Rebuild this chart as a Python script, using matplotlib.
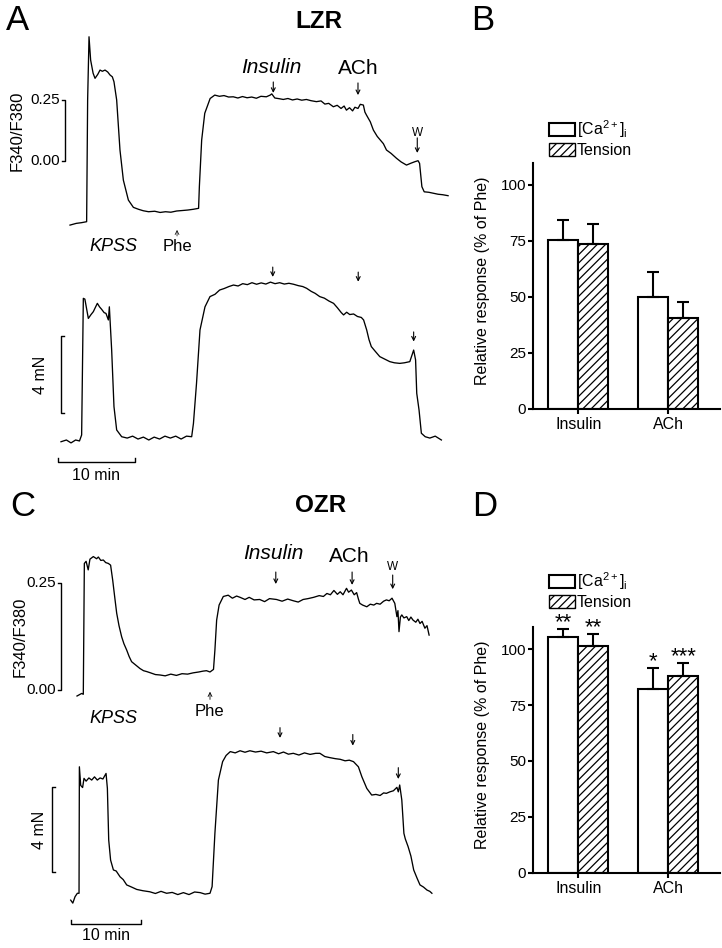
import numpy as np
import matplotlib.pyplot as plt
from matplotlib.patches import Patch

plt.rcParams['font.family'] = ['Liberation Sans', 'DejaVu Sans']
plt.rcParams['mathtext.fontset'] = 'custom'
plt.rcParams['mathtext.rm'] = 'Liberation Sans'
plt.rcParams['mathtext.it'] = 'Liberation Sans:italic'
plt.rcParams['hatch.linewidth'] = 0.9

W, H = 722, 948

lzr_ratio = [
    (0.0, -0.265), (0.8, -0.258), (1.5, -0.255), (2.16, -0.251), (2.29, 0.25), (2.47, 0.51),
    (2.68, 0.414), (3.0, 0.36), (3.25, 0.339), (3.6, 0.355), (3.9, 0.373), (4.2, 0.368),
    (4.55, 0.373), (4.9, 0.365), (5.19, 0.353), (5.5, 0.345), (5.71, 0.325), (6.06, 0.25),
    (6.49, 0.044), (6.93, -0.08), (7.58, -0.162), (8.23, -0.192), (8.9, -0.2), (9.52, -0.206),
    (10.2, -0.21), (11.0, -0.208), (11.7, -0.213), (12.4, -0.21), (13.1, -0.212), (13.85, -0.207),
    (14.6, -0.205), (15.3, -0.203), (16.0, -0.2), (16.7, -0.196), (16.8, -0.107), (17.1, 0.085),
    (17.5, 0.195), (18.2, 0.256), (18.8, 0.27), (19.4, 0.265), (20.0, 0.268), (20.6, 0.262),
    (21.2, 0.263), (21.8, 0.258), (22.4, 0.264), (23.0, 0.259), (23.6, 0.262), (24.2, 0.257),
    (24.8, 0.265), (25.5, 0.263), (26.0, 0.27), (26.2, 0.275), (26.6, 0.258), (27.2, 0.255),
    (27.7, 0.252), (28.3, 0.256), (28.9, 0.25), (29.5, 0.254), (30.1, 0.249), (30.7, 0.252),
    (31.3, 0.247), (32.0, 0.243), (32.6, 0.246), (33.1, 0.233), (33.6, 0.236), (34.2, 0.222),
    (34.7, 0.228), (35.2, 0.215), (35.6, 0.225), (35.9, 0.208), (36.3, 0.218), (36.7, 0.205),
    (37.0, 0.22), (37.4, 0.215), (37.7, 0.232), (38.1, 0.229), (38.3, 0.2), (38.5, 0.188),
    (39.0, 0.16), (39.4, 0.126), (39.9, 0.1), (40.3, 0.085), (40.7, 0.07), (41.1, 0.044),
    (41.7, 0.03), (42.4, 0.01), (43.0, -0.005), (43.7, -0.018), (44.3, -0.01), (44.8, -0.004),
    (45.2, 0.0), (45.4, -0.011), (45.7, -0.107), (46.0, -0.128), (46.6, -0.13), (47.2, -0.134),
    (47.8, -0.138), (48.4, -0.14), (49.1, -0.144),
]
lzr_tension = [
    (0.0, -0.09), (0.7, 0.0), (1.3, -0.15), (1.9, 0.0), (2.4, -0.05), (2.68, 0.26), (2.9, 7.34),
    (3.1, 7.3), (3.55, 6.3), (3.9, 6.5), (4.2, 6.65), (4.5, 6.9), (4.72, 7.08), (5.0, 6.9),
    (5.28, 6.77), (5.6, 6.6), (5.84, 6.56), (6.15, 6.22), (6.28, 6.9), (6.58, 4.66), (6.88, 1.73),
    (7.23, 0.52), (7.88, 0.17), (8.6, 0.1), (9.3, 0.2), (10.0, 0.05), (10.7, 0.15), (11.4, 0.0),
    (12.1, 0.15), (12.8, 0.05), (13.5, 0.2), (14.2, 0.1), (14.9, 0.2), (15.6, 0.05), (16.3, 0.2),
    (16.97, 0.17), (17.2, 0.86), (17.6, 2.94), (18.05, 5.7), (18.7, 6.9), (19.35, 7.43),
    (20.0, 7.55), (20.6, 7.77), (21.2, 7.85), (21.8, 7.95), (22.4, 8.03), (23.0, 7.98),
    (23.6, 8.1), (24.2, 8.05), (24.8, 8.15), (25.4, 8.07), (26.0, 8.14), (26.6, 8.08),
    (27.2, 8.18), (27.8, 8.1), (28.4, 8.15), (29.0, 8.08), (29.6, 8.12), (30.2, 8.07),
    (30.8, 8.0), (31.4, 7.95), (31.9, 7.86), (32.5, 7.7), (33.0, 7.6), (33.6, 7.43),
    (34.2, 7.35), (34.8, 7.2), (35.4, 7.08), (35.9, 6.85), (36.4, 6.6), (36.7, 6.48),
    (37.1, 6.62), (37.5, 6.5), (38.0, 6.53), (38.5, 6.4), (39.0, 6.35), (39.3, 6.22),
    (39.7, 5.7), (40.0, 5.2), (40.3, 4.84), (40.8, 4.6), (41.4, 4.32), (42.0, 4.2),
    (42.7, 4.06), (43.3, 4.0), (44.0, 3.97), (44.6, 4.0), (45.3, 4.06), (45.8, 4.66),
    (46.05, 4.15), (46.2, 2.42), (46.5, 1.55), (46.8, 0.35), (47.3, 0.17), (47.9, 0.1),
    (48.6, 0.2), (49.4, 0.0),
]
ozr_ratio = [
    (0.0, -0.014), (0.67, -0.008), (0.9, -0.01), (1.05, 0.295), (1.3, 0.3), (1.6, 0.28),
    (1.85, 0.305), (2.33, 0.311), (2.8, 0.306), (3.05, 0.31), (3.4, 0.302), (3.76, 0.303),
    (4.1, 0.297), (4.48, 0.295), (4.8, 0.291), (5.1, 0.256), (5.4, 0.215), (5.67, 0.179),
    (6.0, 0.15), (6.38, 0.124), (6.7, 0.108), (7.1, 0.093), (7.45, 0.078), (7.8, 0.066),
    (8.4, 0.058), (9.0, 0.05), (9.5, 0.045), (9.95, 0.043), (10.5, 0.04), (11.2, 0.036),
    (11.86, 0.035), (12.6, 0.033), (13.4, 0.037), (14.2, 0.034), (15.0, 0.038), (15.8, 0.037),
    (16.6, 0.04), (17.4, 0.042), (18.0, 0.044), (18.5, 0.045), (19.0, 0.042), (19.5, 0.048),
    (19.7, 0.093), (19.95, 0.163), (20.3, 0.198), (20.9, 0.218), (21.6, 0.221), (22.2, 0.214),
    (22.8, 0.219), (23.3, 0.216), (24.0, 0.211), (24.6, 0.216), (25.3, 0.21), (26.1, 0.211),
    (26.8, 0.206), (27.5, 0.213), (28.5, 0.211), (29.3, 0.207), (30.1, 0.212), (30.9, 0.208),
    (31.6, 0.205), (32.3, 0.211), (33.0, 0.213), (33.8, 0.216), (34.6, 0.22), (35.2, 0.218),
    (35.7, 0.225), (36.2, 0.222), (36.7, 0.232), (37.2, 0.223), (37.6, 0.229), (38.0, 0.222),
    (38.5, 0.237), (38.8, 0.228), (39.2, 0.233), (39.6, 0.222), (39.95, 0.227), (40.2, 0.212),
    (40.4, 0.202), (40.8, 0.198), (41.4, 0.194), (41.9, 0.2), (42.4, 0.198), (42.8, 0.202),
    (43.3, 0.2), (43.8, 0.207), (44.2, 0.21), (44.6, 0.208), (45.0, 0.214), (45.4, 0.202),
    (45.7, 0.171), (45.85, 0.185), (46.0, 0.136), (46.2, 0.17), (46.4, 0.175), (46.7, 0.168),
    (47.1, 0.171), (47.4, 0.162), (47.7, 0.17), (48.0, 0.163), (48.4, 0.158), (48.7, 0.165),
    (49.0, 0.155), (49.3, 0.16), (49.7, 0.144), (50.0, 0.15), (50.3, 0.128),
]
ozr_tension = [
    (0.0, -0.16), (0.3, -0.3), (0.62, 0.0), (0.95, 0.16), (1.19, 0.16), (1.24, 6.07),
    (1.43, 5.2), (1.7, 5.1), (1.9, 5.53), (2.2, 5.4), (2.6, 5.55), (3.0, 5.45), (3.4, 5.6),
    (3.8, 5.45), (4.2, 5.55), (4.6, 5.5), (5.05, 5.76), (5.24, 5.06), (5.43, 2.65), (5.7, 1.71),
    (6.1, 1.25), (6.5, 1.2), (7.05, 0.93), (7.5, 0.8), (8.0, 0.55), (8.7, 0.45), (9.43, 0.34),
    (10.3, 0.28), (11.3, 0.23), (12.1, 0.15), (12.9, 0.25), (13.7, 0.16), (14.5, 0.2),
    (15.3, 0.1), (16.1, 0.19), (16.9, 0.1), (17.7, 0.22), (18.5, 0.19), (19.2, 0.12),
    (19.9, 0.16), (20.2, 0.47), (20.6, 2.96), (21.1, 5.45), (21.7, 6.31), (22.2, 6.6),
    (22.8, 6.78), (23.5, 6.72), (24.2, 6.82), (24.9, 6.75), (25.6, 6.82), (26.4, 6.76),
    (27.2, 6.8), (28.0, 6.72), (28.95, 6.78), (29.7, 6.68), (30.4, 6.76), (31.1, 6.66),
    (31.8, 6.7), (32.6, 6.62), (33.4, 6.72), (34.2, 6.65), (35.0, 6.7), (35.6, 6.7),
    (36.3, 6.55), (37.0, 6.5), (37.8, 6.45), (38.5, 6.42), (39.2, 6.35), (39.8, 6.38),
    (40.4, 6.31), (41.1, 6.07), (41.6, 5.6), (42.3, 5.06), (43.0, 4.75), (43.6, 4.78),
    (44.2, 4.73), (44.7, 4.85), (45.1, 4.83), (45.6, 4.9), (46.1, 4.95), (46.6, 5.11),
    (46.8, 4.9), (47.0, 5.22), (47.3, 4.52), (47.6, 2.96), (47.8, 2.7), (48.2, 2.34),
    (48.6, 1.9), (49.0, 1.25), (49.5, 0.85), (49.9, 0.55), (50.4, 0.45), (50.9, 0.31),
    (51.3, 0.25), (51.6, 0.16),
]

# summary bars (% of Phe)
groups = ['Insulin', 'ACh']
lzr_ca_mean = [75.5, 49.9]
lzr_ca_sem = [8.9, 11.2]
lzr_ten_mean = [73.7, 40.7]
lzr_ten_sem = [8.8, 7.0]
ozr_ca_mean = [105.4, 82.1]
ozr_ca_sem = [3.6, 9.4]
ozr_ten_mean = [101.6, 88.1]
ozr_ten_sem = [5.3, 5.6]
ozr_ca_stars = ['**', '*']
ozr_ten_stars = ['**', '***']

fig = plt.figure(figsize=(W / 100, H / 100), dpi=100)


def trace_axes(left, top, right, bottom, x0, px_min, y0, px_unit):
    ax = fig.add_axes([left / W, 1 - bottom / H, (right - left) / W, (bottom - top) / H])
    ax.set_xlim((left - x0) / px_min, (right - x0) / px_min)
    ax.set_ylim((y0 - bottom) / px_unit, (y0 - top) / px_unit)
    ax.axis('off')
    return ax


def plot_trace(ax, pts):
    arr = np.array(pts)
    ax.plot(arr[:, 0], arr[:, 1], color='black', lw=0.95)


def arrow(ax, t, v1, v2, lw=0.8):
    ax.annotate('', xy=(t, v2), xytext=(t, v1),
                arrowprops=dict(arrowstyle='->', lw=lw, color='black',
                                shrinkA=0, shrinkB=0, mutation_scale=7))


def ratio_bar(ax, t, dt, ylab_t):
    ax.plot([t - dt, t, t, t - dt], [0.25, 0.25, 0.0, 0.0], color='black', lw=1.0)
    ax.text(t - dt * 1.6, 0.25, '0.25', ha='right', va='center', fontsize=11)
    ax.text(t - dt * 1.6, 0.0, '0.00', ha='right', va='center', fontsize=11)
    ax.text(ylab_t, 0.125, 'F340/F380', rotation=90, ha='center', va='center', fontsize=12)


def tension_bar(ax, t, dt, v0, lab_t):
    ax.plot([t + dt, t, t, t + dt], [v0 + 4, v0 + 4, v0, v0], color='black', lw=1.0)
    ax.text(lab_t, v0 + 2, '4 mN', rotation=90, ha='center', va='center', fontsize=11.5)


def time_bar(ax, t0, v, dv, lab_v):
    ax.plot([t0, t0, t0 + 10, t0 + 10], [v + dv, v, v, v + dv], color='black', lw=1.0)
    ax.text(t0 + 5, lab_v, '10 min', ha='center', va='center', fontsize=11.5)


# ---- A : LZR traces
ax = trace_axes(0, 0, 470, 250, 70, 7.7, 160.7, 243)
plot_trace(ax, lzr_ratio)
ratio_bar(ax, -0.65, 0.4, -6.9)
ax.text(26.2, 0.385, 'Insulin', style='italic', ha='center', va='center', fontsize=15)
arrow(ax, 26.4, 0.324, 0.279)
ax.text(37.4, 0.381, 'ACh', ha='center', va='center', fontsize=15)
arrow(ax, 37.4, 0.32, 0.27)
ax.text(45.1, 0.114, 'W', ha='center', va='center', fontsize=8.5)
arrow(ax, 45.1, 0.094, 0.032)
ax.text(5.6, -0.352, 'KPSS', style='italic', ha='center', va='center', fontsize=13)
ax.text(13.9, -0.352, 'Phe', ha='center', va='center', fontsize=12)
arrow(ax, 13.9, -0.31, -0.285, lw=0.5)

ax = trace_axes(0, 250, 470, 490, 61, 7.7, 440, 19.3)
plot_trace(ax, lzr_tension)
tension_bar(ax, 0.0, 0.4, 1.38, -2.7)
time_bar(ax, -0.39, -1.14, 0.2, -1.85)
arrow(ax, 27.5, 8.96, 8.45)
arrow(ax, 38.6, 8.7, 8.2)
arrow(ax, 45.8, 5.6, 5.1)

# ---- C : OZR traces
ax = trace_axes(0, 480, 470, 720, 77, 7.0, 690, 429)
plot_trace(ax, ozr_ratio)
ratio_bar(ax, -2.29, 0.43, -8.14)
ax.text(28.0, 0.319, 'Insulin', style='italic', ha='center', va='center', fontsize=15)
arrow(ax, 28.4, 0.275, 0.247)
ax.text(38.9, 0.312, 'ACh', ha='center', va='center', fontsize=15)
arrow(ax, 39.3, 0.275, 0.245)
ax.text(45.1, 0.286, 'W', ha='center', va='center', fontsize=8.5)
arrow(ax, 45.1, 0.268, 0.235)
ax.text(18.9, -0.049, 'Phe', ha='center', va='center', fontsize=12)
arrow(ax, 19.0, -0.022, -0.004, lw=0.6)
ax.text(5.14, -0.066, 'KPSS', style='italic', ha='center', va='center', fontsize=13)

ax = trace_axes(0, 700, 470, 948, 70.7, 7.0, 896.7, 21.4)
plot_trace(ax, ozr_tension)
tension_bar(ax, -2.67, 0.43, 1.14, -4.39)
time_bar(ax, 0.0, -1.28, 0.2, -1.8)
arrow(ax, 29.9, 7.9, 7.42)
arrow(ax, 40.3, 7.58, 7.06)
arrow(ax, 46.8, 6.03, 5.5)


# ---- B, D : summary bars
def bar_panel(bottom_px, px_unit, ca_m, ca_e, ten_m, ten_e, leg_top):
    top_px = bottom_px - 110 * px_unit
    ax = fig.add_axes([533 / W, 1 - bottom_px / H, (720 - 533) / W, (bottom_px - top_px) / H])
    x = np.arange(len(groups))
    w = 1 / 3
    ax.bar(x - w / 2, ca_m, w, color='white', edgecolor='black', lw=1.5, zorder=2)
    ax.bar(x + w / 2, ten_m, w, color='white', edgecolor='black', lw=1.5,
           hatch='////', zorder=2)
    for off, m, e in [(-w / 2, ca_m, ca_e), (w / 2, ten_m, ten_e)]:
        ax.errorbar(x + off, m, yerr=[np.zeros(len(m)), e], fmt='none', ecolor='black',
                    elinewidth=1.5, capsize=4, capthick=1.5, zorder=3)
    ax.set_xlim(-0.503, 1.574)
    ax.set_ylim(0, 110)
    ax.set_yticks([0, 25, 50, 75, 100])
    ax.set_xticks(x)
    ax.set_xticklabels(groups, fontsize=11.5)
    for s in ['top', 'right']:
        ax.spines[s].set_visible(False)
    for s in ['left', 'bottom']:
        ax.spines[s].set_linewidth(1.5)
    ax.tick_params(axis='both', length=3.6, width=1.5, labelsize=11)
    ax.tick_params(axis='y', pad=1.5)
    ax.tick_params(axis='x', pad=2.5, labelsize=11.5)
    ax.set_ylabel('Relative response (% of Phe)', fontsize=11.5)
    ax.yaxis.set_label_coords(-0.23, 0.52)
    handles = [Patch(facecolor='white', edgecolor='black', lw=1.5,
                     label=r'[Ca$^{\mathrm{2+}}$]$_{\mathrm{i}}$'),
               Patch(facecolor='white', edgecolor='black', lw=1.0, hatch='////',
                     label='Tension')]
    ax.legend(handles=handles, loc='upper left', bbox_to_anchor=(549 / W, 1 - leg_top / H),
              bbox_transform=fig.transFigure, frameon=False, fontsize=11.5,
              handlelength=1.6, handleheight=0.9, handletextpad=0.15,
              labelspacing=0.2, borderpad=0, borderaxespad=0)
    return ax, x, w


bar_panel(409, 2.24, lzr_ca_mean, lzr_ca_sem, lzr_ten_mean, lzr_ten_sem, 118)
ax, x, w = bar_panel(872.7, 2.234, ozr_ca_mean, ozr_ca_sem, ozr_ten_mean, ozr_ten_sem, 570)
for i in range(len(groups)):
    ax.text(x[i] - w / 2, ozr_ca_mean[i] + ozr_ca_sem[i] + 0.4, ozr_ca_stars[i],
            ha='center', va='baseline', fontsize=16, clip_on=False)
    ax.text(x[i] + w / 2, ozr_ten_mean[i] + ozr_ten_sem[i] + 0.4, ozr_ten_stars[i],
            ha='center', va='baseline', fontsize=16, clip_on=False)

# panel letters and titles
for lab, px, py in [('A', 18, 20), ('B', 483, 20), ('C', 23, 507), ('D', 485, 507)]:
    fig.text(px / W, 1 - py / H, lab, ha='center', va='center', fontsize=25)
fig.text(319 / W, 1 - 22 / H, 'LZR', ha='center', va='center', fontsize=17.5, weight='bold')
fig.text(321 / W, 1 - 505 / H, 'OZR', ha='center', va='center', fontsize=17.5, weight='bold')

fig.savefig('out.png', dpi=100)
